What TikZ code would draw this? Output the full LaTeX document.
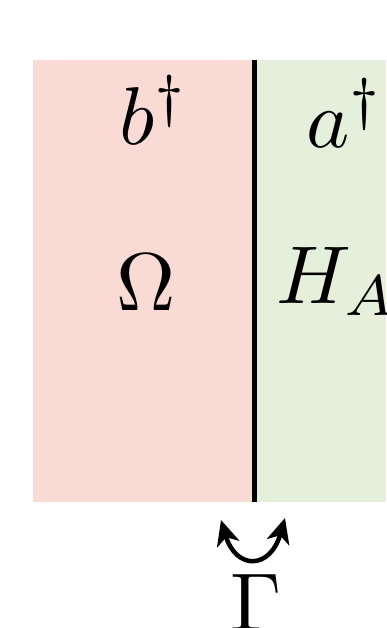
\documentclass[tikz,border=0pt]{standalone}
\usetikzlibrary{arrows.meta}
\definecolor{pinkbg}{RGB}{249,218,212}
\definecolor{greenbg}{RGB}{228,240,219}
\begin{document}
\begin{tikzpicture}[x=1pt,y=-1pt,
  lbl/.style={inner sep=0pt,scale=8.2,anchor=base west},
  tip/.tip={Stealth[length=25pt,width=23pt,inset=7pt]}]
\useasboundingbox (0,0) rectangle (386,628);
\fill[pinkbg] (33,60) rectangle (253,502);
\fill[greenbg] (253,60) rectangle (386,502);
\coordinate (top) at (254,60);
\coordinate (bot) at (254,502);
\draw[line width=5pt] (top) -- (bot);
\node[lbl] (b) at (118,145) {$b^\dagger$};
\node[lbl] (a) at (305,148) {$a^\dagger$};
\node[lbl] (om) at (115,310) {$\Omega$};
\node[lbl] (h) at (275,303) {$H_A$};
\node[lbl] (g) at (229,630) {$\Gamma$};
\coordinate (lt) at (221,520);
\coordinate (rt) at (285,518);
\draw[line width=4.5pt,tip-tip] (lt) .. controls (236,570) and (270,570) .. (rt);
\end{tikzpicture}
\end{document}
